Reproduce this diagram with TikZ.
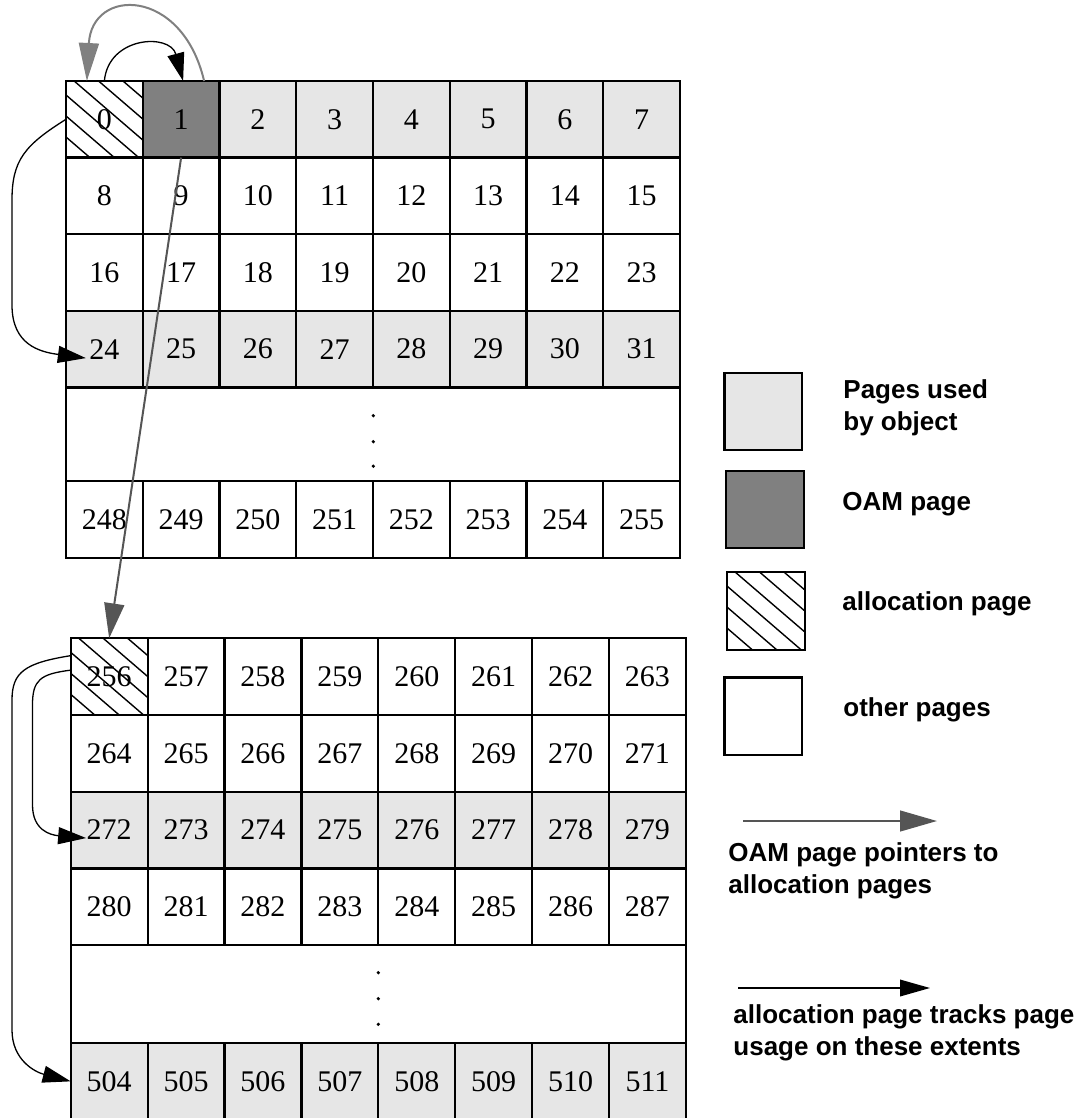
\documentclass[tikz,border=0pt]{standalone}
\usepackage{fontspec}
\setmainfont{Liberation Serif}
\newfontfamily\lserif{Liberation Serif}
\newfontfamily\lsans{Liberation Sans}
\usetikzlibrary{arrows.meta,calc}
\definecolor{usedgray}{HTML}{E6E6E6}
\definecolor{oamgray}{HTML}{808080}
\definecolor{ptrgray}{HTML}{555555}
\definecolor{curvegray}{HTML}{808080}
\tikzset{
  cell/.style={draw=black, line width=1.1pt, inner sep=0pt, outer sep=0pt,
    font=\lserif\fontsize{15}{18}\selectfont},
  gone/.style={minimum width=38.375pt, minimum height=38.3pt},
  gtwo/.style={minimum width=38.45pt, minimum height=38.35pt},
  legbox/.style={draw=black, line width=1.1pt, inner sep=0pt, outer sep=0pt,
    minimum width=38.75pt, minimum height=38.75pt},
  used/.style={fill=usedgray},
  oam/.style={fill=oamgray},
  alloc/.style={fill=white, path picture={
      \foreach \k in {0,...,5}{
        \draw[line width=0.7pt] ($(path picture bounding box.north west)+(0,-49+21*\k)$) -- ++(100,86);
      }}},
  legtext/.style={font=\lsans\bfseries\fontsize{13}{16}\selectfont, align=left, inner sep=0pt, anchor=base west},
  trk/.style={line width=0.65pt, -{Triangle[length=14pt,width=8.5pt]}},
  curv/.style={draw=curvegray, line width=1pt, -{Triangle[length=19pt,width=10pt]}},
  ptr/.style={draw=ptrgray, line width=1pt, -{Triangle[length=17.5pt,width=10pt]}},
  legptr/.style={draw=ptrgray, line width=1.3pt, -{Triangle[length=18.5pt,width=10.3pt]}},
  legtrk/.style={line width=0.85pt, -{Triangle[length=15pt,width=8.3pt]}},
  dot/.style={fill=black},
}
\begin{document}
\begin{tikzpicture}[x=0.5pt,y=-0.5pt]
\useasboundingbox (0,0) rectangle (1082,1118);

% ---------- grid 1 ----------
\node[cell,gone,alloc] (p0) at (104.375,119.3) {0};
\node[cell,gone,oam] (p1) at (181.125,119.3) {1};
\foreach \c in {2,...,7}{
  \pgfmathsetmacro\xx{66+76.75*(\c+0.5)}
  \node[cell,gone,used] (p\c) at (\xx,119.3) {\c};
}
\foreach \c in {0,...,7}{
  \pgfmathsetmacro\xx{66+76.75*(\c+0.5)}
  \pgfmathtruncatemacro\na{8+\c}
  \pgfmathtruncatemacro\nb{16+\c}
  \pgfmathtruncatemacro\nc{24+\c}
  \pgfmathtruncatemacro\nd{248+\c}
  \node[cell,gone] (p\na) at (\xx,195.9) {\na};
  \node[cell,gone] (p\nb) at (\xx,272.5) {\nb};
  \node[cell,gone,used] (p\nc) at (\xx,349.1) {\nc};
  \node[cell,gone] (p\nd) at (\xx,519.3) {\nd};
}
\node[cell, minimum width=307pt, minimum height=46.8pt] (gap1) at (373,434.2) {};
\fill[dot] ($(gap1.center)+(0.3,-18.5)$) circle[radius=0.9pt];
\fill[dot] ($(gap1.center)+(0.3,7.5)$) circle[radius=0.9pt];
\fill[dot] ($(gap1.center)+(0.3,32)$) circle[radius=0.9pt];

% ---------- grid 2 ----------
\node[cell,gtwo,alloc] (p256) at (109.15,676.65) {256};
\foreach \c in {1,...,7}{
  \pgfmathsetmacro\xx{70.7+76.9*(\c+0.5)}
  \pgfmathtruncatemacro\na{256+\c}
  \node[cell,gtwo] (p\na) at (\xx,676.65) {\na};
}
\foreach \c in {0,...,7}{
  \pgfmathsetmacro\xx{70.7+76.9*(\c+0.5)}
  \pgfmathtruncatemacro\na{264+\c}
  \pgfmathtruncatemacro\nb{272+\c}
  \pgfmathtruncatemacro\nc{280+\c}
  \pgfmathtruncatemacro\nd{504+\c}
  \node[cell,gtwo] (p\na) at (\xx,753.35) {\na};
  \node[cell,gtwo,used] (p\nb) at (\xx,830.05) {\nb};
  \node[cell,gtwo] (p\nc) at (\xx,906.75) {\nc};
  \node[cell,gtwo,used] (p\nd) at (\xx,1081.35) {\nd};
}
\node[cell, minimum width=307.6pt, minimum height=49pt] (gap2) at (378.3,994) {};
\fill[dot] ($(gap2.center)+(0,-21.3)$) circle[radius=0.9pt];
\fill[dot] ($(gap2.center)+(0,4.7)$) circle[radius=0.9pt];
\fill[dot] ($(gap2.center)+(0,30.3)$) circle[radius=0.9pt];

% ---------- connectors ----------
\draw[trk] (p0.north) .. controls ($(p0.north)+(4,-45)$) and ($(p1.north)+(-11,-48)$) .. ($(p1.north)+(2,0)$);
\draw[curv] ($(p1.north)+(23,0)$) .. controls ($(p1.north)+(1,-94)$) and ($(p0.north)+(-12.5,-94)$) .. ($(p0.north)+(-17.5,0)$);
\draw[trk] (p0.west) .. controls (25,145) and (12,160) .. (12,200) -- (12,305) .. controls (12,345) and (40,352) .. ($(p24.center)+(-18.5,9)$);
\draw[ptr] (p1.south) -- (p256.north);
\draw[trk] ($(p256.west)+(0,-21)$) .. controls (25,663) and (12,672) .. (12,700) -- (12,1030) .. controls (12,1060) and (35,1072) .. (p504.west);
\draw[trk] ($(p256.west)+(0,-6.5)$) .. controls (40,674) and (32.5,680) .. (32.5,705) -- (32.5,805) .. controls (32.5,830) and (50,835) .. ($(p272.center)+(-23,8)$);

% ---------- legend ----------
\node[legbox,used] (leg1) at (763.3,411.4) {};
\node[legbox,oam] (leg2) at (765,509.5) {};
\node[legbox,alloc] (leg3) at (766.1,611.1) {};
\node[legbox] (leg4) at (763.3,716.3) {};
\node[legtext] (t1) at (843,430) {Pages used\\by object};
\node[legtext] (t2) at (842,510) {OAM page};
\node[legtext] (t3) at (842,610) {allocation page};
\node[legtext] (t4) at (843,716) {other pages};

\coordinate (oams) at (743,821);
\coordinate (oame) at (937,821);
\draw[legptr] (oams) -- (oame);
\node[legtext] (t5) at (728,893) {OAM page pointers to\\allocation pages};
\coordinate (allocs) at (738,988);
\coordinate (alloce) at (930,988);
\draw[legtrk] (allocs) -- (alloce);
\node[legtext] (t6) at (733,1055) {allocation page tracks page\\usage on these extents};
\end{tikzpicture}
\end{document}
